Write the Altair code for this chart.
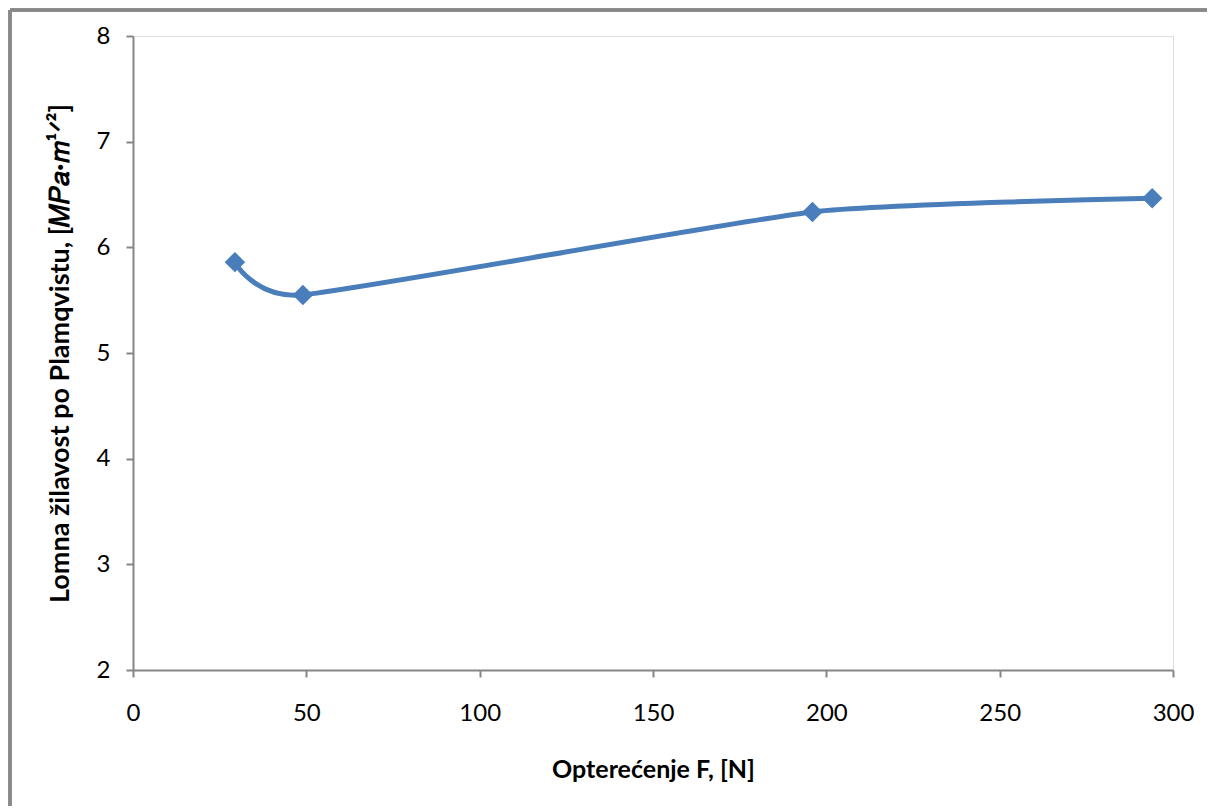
import altair as alt
import pandas as pd

loads = [29.4, 49.0, 196.0, 294.0]
toughness = [5.86, 5.55, 6.335, 6.465]

df = pd.DataFrame({"F": loads, "K": toughness})

FONT = "Lato"
AXIS_GRAY = "#868686"
BLUE = "#4A7EBB"

W, H = 1040, 634

x = alt.X("F:Q", title="Opterećenje F, [N]",
          scale=alt.Scale(domain=[0, 300], nice=False, zero=False),
          axis=alt.Axis(values=[0, 50, 100, 150, 200, 250, 300], grid=False, format="d",
                        labelFlush=False,
                        domainColor=AXIS_GRAY, tickColor=AXIS_GRAY, domainWidth=2, tickWidth=2,
                        tickSize=7, labelPadding=24, labelFontSize=24, labelFont=FONT,
                        labelColor="#000000", titleFont=FONT, titleFontSize=25,
                        titleFontWeight="bold", titleColor="#000000", titlePadding=32))
y = alt.Y("K:Q", title="Lomna žilavost po Plamqvistu, [𝑀𝑃𝑎·𝑚¹ᐟ²]",
          scale=alt.Scale(domain=[2, 8], nice=False, zero=False),
          axis=alt.Axis(values=[2, 3, 4, 5, 6, 7, 8], grid=False, format="d",
                        labelFlush=False,
                        domainColor=AXIS_GRAY, tickColor=AXIS_GRAY, domainWidth=2, tickWidth=2,
                        tickSize=7, labelPadding=16, labelFontSize=24, labelFont=FONT,
                        labelColor="#000000", titleFont=FONT, titleFontSize=27,
                        titleFontWeight="bold", titleColor="#000000", titlePadding=22))

base = alt.Chart(df)
line = base.mark_line(color=BLUE, strokeWidth=5, interpolate="cardinal", tension=0.5).encode(x=x, y=y)
pts = base.mark_point(shape="diamond", filled=True, size=420, color=BLUE, opacity=1).encode(x="F:Q", y="K:Q")

frame_left = alt.Chart(df).mark_rule(color="#888888", strokeWidth=3).encode(
    x=alt.value(-123), y=alt.value(-26), y2=alt.value(770))
frame_top = alt.Chart(df).mark_rule(color="#888888", strokeWidth=3).encode(
    x=alt.value(-123), x2=alt.value(1074), y=alt.value(-26))

chart = alt.layer(frame_left, frame_top, line, pts).properties(
    width=W, height=H, padding=0
).configure_view(stroke=None).configure(background="white")

chart.save("out.html", embed_options={"renderer": "svg", "actions": False})
